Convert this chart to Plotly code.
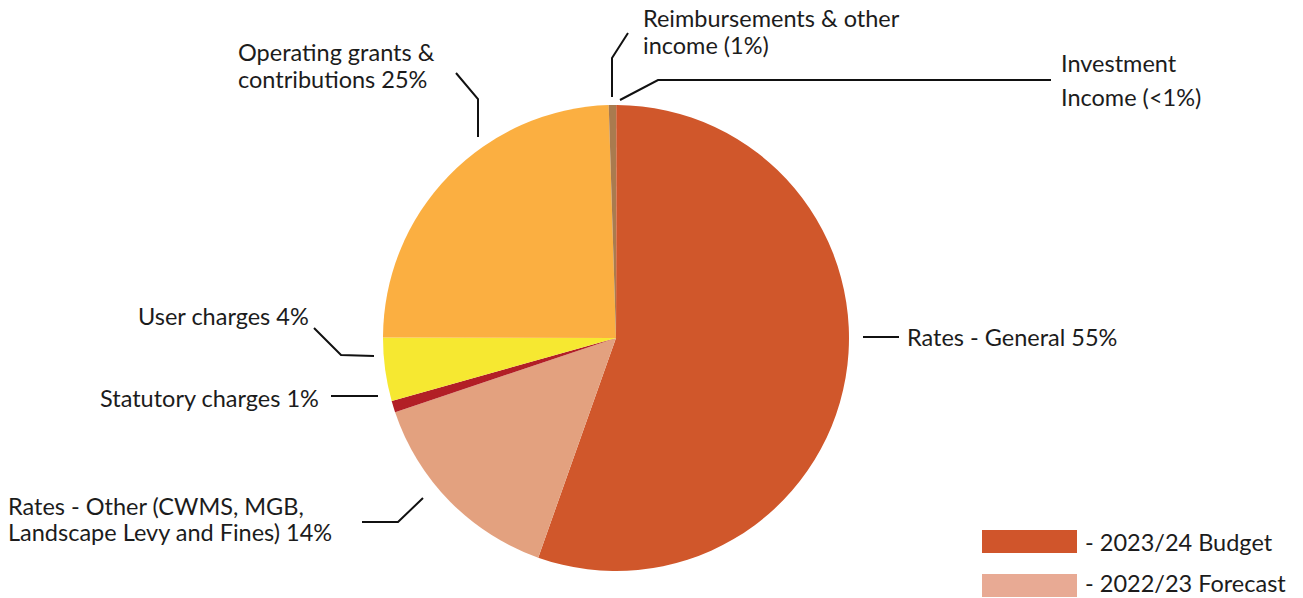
import plotly.graph_objects as go

W, H = 1303, 598

# Income sources (percent of total), clockwise from 12 o'clock
categories = [
    "Investment Income",
    "Rates - General",
    "Rates - Other (CWMS, MGB, Landscape Levy and Fines)",
    "Statutory charges",
    "User charges",
    "Operating grants & contributions",
    "Reimbursements & other income",
]
values = [0.05, 55.45, 14.45, 0.8, 4.4, 24.5, 0.5]
colors = ["#C9552B", "#D0572B", "#E3A17F", "#B21F26", "#F6E831", "#FBAF41", "#A97B4F"]

legend_labels = ["- 2023/24 Budget", "- 2022/23 Forecast"]
legend_colors = ["#D0552B", "#E8AA94"]

FONT = "Lato, 'Open Sans', sans-serif"
TXT = "#1c1c1c"
FS = 23.5


def px(x):
    return x / W


def py(y):
    return 1 - y / H


fig = go.Figure()
fig.add_trace(go.Pie(
    labels=categories,
    values=values,
    marker=dict(colors=colors, line=dict(width=0)),
    sort=False,
    direction="clockwise",
    rotation=0,
    textinfo="none",
    hoverinfo="label+percent",
    showlegend=False,
    domain=dict(x=[px(383), px(849)], y=[py(571), py(105)]),
))

# Leader lines (pixel polylines)
leaders = [
    [(612, 97), (612, 58), (628, 33)],                 # Reimbursements
    [(620, 100), (658, 80), (1051, 80)],               # Investment
    [(478, 137), (478, 99), (456, 73)],                # Operating grants
    [(374, 356), (341, 355), (314, 328)],              # User charges
    [(378, 396), (331, 396)],                          # Statutory charges
    [(423, 498), (398, 522), (362, 522)],              # Rates - Other
    [(863, 337), (899, 337)],                          # Rates - General
]
shapes = []
for pts in leaders:
    path = "M " + " L ".join(f"{px(x)},{py(y)}" for x, y in pts)
    shapes.append(dict(type="path", path=path, xref="paper", yref="paper",
                       line=dict(color="#111111", width=2)))

# Legend swatches
for i, c in enumerate(legend_colors):
    y0 = 530 + i * 44
    shapes.append(dict(type="rect", xref="paper", yref="paper",
                       x0=px(982), x1=px(1077), y0=py(y0 + 23), y1=py(y0),
                       fillcolor=c, line=dict(width=0)))

annotations = []


def label(text, x, y, xanchor="left"):
    annotations.append(dict(text=text, x=px(x), y=py(y), xref="paper", yref="paper",
                            xanchor=xanchor, yanchor="middle", showarrow=False,
                            align=xanchor, borderpad=0,
                            font=dict(family=FONT, size=FS, color=TXT)))


label("Reimbursements & other", 642, 18)
label("income (1%)", 642, 45)
label("Investment", 1060, 63)
label("Income (<1%)", 1060, 97)
label("Operating grants &", 237, 52)
label("contributions 25%", 237, 79)
label("User charges 4%", 310, 316, "right")
label("Statutory charges 1%", 320, 398, "right")
label("Rates - Other (CWMS, MGB,", 7, 506)
label("Landscape Levy and Fines) 14%", 7, 532)
label("Rates - General 55%", 906, 337)
label(legend_labels[0], 1084, 542)
label(legend_labels[1], 1084, 583)

fig.update_layout(
    width=W, height=H,
    margin=dict(l=0, r=0, t=0, b=0),
    paper_bgcolor="white", plot_bgcolor="white",
    shapes=shapes, annotations=annotations,
    font=dict(family=FONT, color=TXT),
)

fig.write_html("out.html", config={"displayModeBar": False})
